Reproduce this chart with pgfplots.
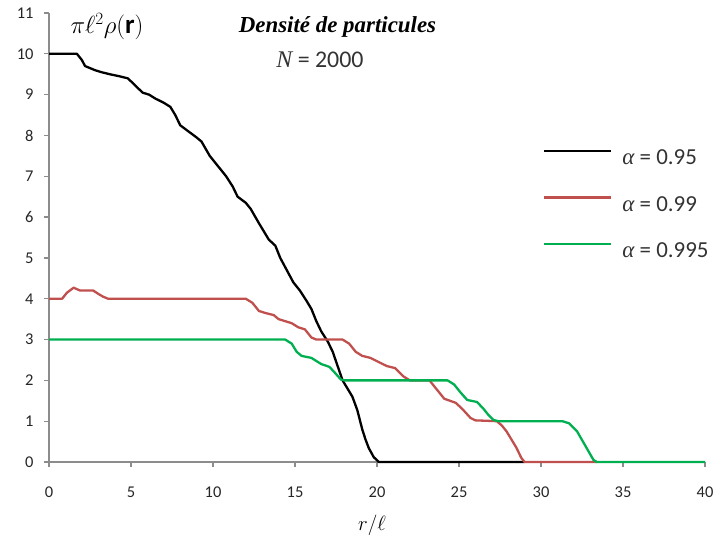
\documentclass[border=0pt]{standalone}
\usepackage{fontspec}
\setmainfont{Carlito}
\newfontfamily\tnr{Liberation Serif}
\usepackage{pgfplots}
\pgfplotsset{compat=1.18}
\definecolor{exred}{RGB}{192,80,77}
\definecolor{exgreen}{RGB}{0,176,80}
\definecolor{axgray}{RGB}{140,140,140}
\begin{document}
\begin{tikzpicture}
\path[use as bounding box] (-49bp,-77bp) rectangle (665bp,462bp);
\begin{axis}[
  at={(0,0)}, anchor=south west,
  scale only axis, width=656bp, height=449bp,
  xmin=0, xmax=40, ymin=0, ymax=11,
  axis x line=bottom, axis y line=left,
  axis line style={-, draw=axgray, line width=1.3bp},
  xtick={0,5,...,40}, ytick={0,1,...,11},
  tick style={draw=axgray, line width=1.3bp},
  tick align=outside, major tick length=5bp,
  minor tick num=0,
  ticklabel style={font=\fontsize{16.5}{16.5}\selectfont, text=black!85},
  /pgf/number format/assume math mode=true,
  xticklabel style={yshift=-16bp},
  yticklabel style={xshift=-7bp},
  enlargelimits=false, clip=false,
  legend style={at={(axis cs:30.12,6.31)}, anchor=west, draw=none, fill=none,
    inner sep=0pt, row sep=30bp,
    nodes={inner sep=0pt, font=\fontsize{23}{23}\selectfont, text=black!80}},
  legend cell align=left,
  legend image code/.code={\draw[#1] (0bp,7bp) -- (67bp,7bp);},
  every axis plot/.append style={line width=2.3bp, line join=round},
]
\addplot[black] coordinates {
(0,10) (1.7,10) (2.0,9.85) (2.2,9.7) (2.8,9.6) (3.2,9.55) (3.7,9.5) (4.3,9.45) (4.8,9.4) (5.2,9.25) (5.7,9.05) (6.1,9.0) (6.5,8.9) (7.0,8.8) (7.4,8.7) (7.7,8.5) (8.0,8.25) (8.5,8.1) (9.0,7.95) (9.3,7.85) (9.8,7.5) (10.4,7.2) (10.8,7.0) (11.2,6.75) (11.5,6.5) (12.0,6.35) (12.3,6.2) (12.8,5.85) (13.4,5.45) (13.8,5.3) (14.1,5.0) (14.5,4.7) (14.9,4.4) (15.3,4.2) (15.7,3.95) (16.0,3.75) (16.3,3.45) (16.6,3.2) (17.0,2.95) (17.3,2.7) (17.6,2.35) (17.9,2.0) (18.2,1.8) (18.5,1.6) (18.8,1.27) (19.1,0.8) (19.3,0.55) (19.5,0.34) (19.8,0.12) (20.1,0) (29,0)
};
\addlegendentry{\hspace*{10bp}{\tnr\itshape α} = 0.95}
\addplot[exred] coordinates {
(0,4) (0.8,4) (1.1,4.15) (1.5,4.27) (1.9,4.2) (2.7,4.2) (3.0,4.12) (3.3,4.05) (3.6,4.0) (12.0,4.0) (12.4,3.9) (12.8,3.7) (13.2,3.65) (13.7,3.6) (14.0,3.5) (14.4,3.45) (14.8,3.4) (15.2,3.3) (15.6,3.25) (16.0,3.05) (16.3,3.0) (17.9,3.0) (18.3,2.9) (18.7,2.7) (19.1,2.6) (19.6,2.55) (20.1,2.45) (20.6,2.35) (21.1,2.3) (21.6,2.1) (22,2.0) (23.2,2.0) (23.6,1.8) (24.1,1.55) (24.8,1.45) (25.2,1.3) (25.7,1.08) (26.0,1.02) (27.3,1.0) (27.6,0.9) (27.9,0.75) (28.2,0.55) (28.5,0.35) (28.8,0.1) (29.0,0) (33.4,0)
};
\addlegendentry{\hspace*{10bp}{\tnr\itshape α} = 0.99}
\addplot[exgreen] coordinates {
(0,3) (14.4,3) (14.8,2.9) (15.1,2.7) (15.4,2.6) (16.0,2.55) (16.6,2.4) (17.1,2.33) (17.4,2.2) (17.8,2.02) (18.0,2.0) (24.3,2.0) (24.7,1.9) (25.1,1.7) (25.5,1.52) (26.1,1.47) (26.5,1.3) (26.8,1.15) (27.1,1.03) (27.4,1.0) (31.3,1.0) (31.7,0.95) (32.2,0.75) (32.7,0.4) (33.2,0.05) (33.4,0) (40,0)
};
\addlegendentry{\hspace*{10bp}{\tnr\itshape α} = 0.995}
\end{axis}
\node[font=\tnr\bfseries\itshape\fontsize{23}{23}\selectfont] at (288.5bp,435bp) {Densité de particules};
\node[font=\fontsize{24}{24}\selectfont, text=black!80] at (271bp,402bp) {{\tnr\itshape N} = 2000};
\node[font=\fontsize{27}{27}\selectfont] at (58bp,435bp) {$\pi\ell^2\rho(\mathbf{r})$};
\node[font=\fontsize{20}{20}\selectfont] at (323bp,-63bp) {$r/\ell$};
\end{tikzpicture}
\end{document}
